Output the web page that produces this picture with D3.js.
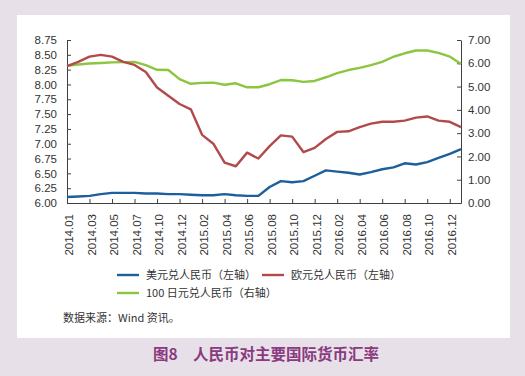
<!DOCTYPE html>
<html>
<head>
<meta charset="utf-8">
<script src="https://cdn.jsdelivr.net/npm/d3@7"></script>
<style>
  body { margin: 0; background: #e7e0e9; }
  svg { display: block; font-family: "Noto Sans CJK SC", "Noto Sans", sans-serif; }
</style>
</head>
<body>
<div id="chart"></div>
<script>
// tick labels shown under the x axis (every second data point)
const tickLabels = ["2014.01", "2014.03", "2014.05", "2014.07", "2014.10", "2014.12",
  "2015.02", "2015.04", "2015.06", "2015.08", "2015.10", "2015.12",
  "2016.02", "2016.04", "2016.06", "2016.08", "2016.10", "2016.12"];

// 美元兑人民币 (left axis)
const usd = [6.10, 6.11, 6.12, 6.15, 6.17, 6.17, 6.17, 6.16, 6.16, 6.15, 6.15, 6.14,
  6.13, 6.13, 6.15, 6.13, 6.12, 6.12, 6.27, 6.37, 6.35, 6.37, 6.46, 6.55,
  6.53, 6.51, 6.48, 6.52, 6.57, 6.60, 6.67, 6.65, 6.69, 6.76, 6.83, 6.91];

// 欧元兑人民币 (left axis)
const eur = [8.31, 8.38, 8.47, 8.50, 8.47, 8.38, 8.33, 8.21, 7.95, 7.81, 7.67, 7.58,
  7.15, 7.00, 6.68, 6.62, 6.85, 6.75, 6.96, 7.14, 7.12, 6.86, 6.93, 7.08,
  7.20, 7.21, 7.28, 7.34, 7.37, 7.37, 7.39, 7.44, 7.46, 7.39, 7.37, 7.28];

// 100日元兑人民币 (right axis)
const jpy = [5.89, 5.95, 5.99, 6.01, 6.04, 6.05, 6.06, 5.92, 5.72, 5.71, 5.32, 5.12,
  5.16, 5.17, 5.08, 5.14, 4.97, 4.97, 5.10, 5.28, 5.27, 5.20, 5.24, 5.40,
  5.58, 5.71, 5.80, 5.92, 6.06, 6.28, 6.43, 6.55, 6.55, 6.45, 6.29, 5.97];

const width = 525;
const height = 376;
const axisColor = "#404040";
const textColor = "#333";

const svg = d3.select("#chart")
  .append("svg")
  .attr("width", width)
  .attr("height", height);

svg.append("rect").attr("width", width).attr("height", height).attr("fill", "#e7e0e9");
svg.append("rect")
  .attr("x", 17).attr("y", 15)
  .attr("width", 493).attr("height", 323)
  .attr("fill", "#fff");

const x = d3.scaleLinear().domain([0, usd.length - 1]).range([67, 461]);
const yL = d3.scaleLinear().domain([6, 8.75]).range([203, 40]);
const yR = d3.scaleLinear().domain([0, 7]).range([203, 40]);

function styleAxis(g) {
  g.select(".domain").attr("stroke", axisColor);
  g.selectAll(".tick line").attr("stroke", axisColor);
  g.selectAll("text").attr("fill", textColor).style("font-size", "11.5px");
}

// left axis
svg.append("g")
  .attr("transform", "translate(67,0)")
  .call(d3.axisLeft(yL).tickValues(d3.range(6, 8.76, 0.25))
    .tickFormat(d3.format(".2f")).tickSizeInner(-4).tickSizeOuter(0).tickPadding(10))
  .call(styleAxis);

// right axis
svg.append("g")
  .attr("transform", "translate(461,0)")
  .call(d3.axisRight(yR).tickValues(d3.range(0, 7.01, 1))
    .tickFormat(d3.format(".2f")).tickSizeInner(-4).tickSizeOuter(0).tickPadding(7))
  .call(styleAxis);

// bottom axis
const xAxis = svg.append("g")
  .attr("transform", "translate(0,203)")
  .call(d3.axisBottom(x).tickValues(tickLabels.map((d, i) => i * 2))
    .tickFormat(d => tickLabels[d / 2]).tickSizeInner(-4).tickSizeOuter(0))
  .call(styleAxis);
xAxis.selectAll("text")
  .attr("transform", "rotate(-90)")
  .attr("text-anchor", "end")
  .attr("x", -11)
  .attr("y", 0)
  .attr("dy", "0.5em");

const series = [
  { name: "美元兑人民币（左轴）", values: usd, scale: yL, color: "#1c5f9c" },
  { name: "欧元兑人民币（左轴）", values: eur, scale: yL, color: "#b24a4b" },
  { name: "100 日元兑人民币（右轴）", values: jpy, scale: yR, color: "#8cc540" }
];

// draw green first so the others sit on top
[series[2], series[1], series[0]].forEach(s => {
  svg.append("path")
    .datum(s.values)
    .attr("fill", "none")
    .attr("stroke", s.color)
    .attr("stroke-width", 2.4)
    .attr("stroke-linejoin", "round")
    .attr("d", d3.line().x((d, i) => x(i)).y(d => s.scale(d)));
});

// legend
const legendPos = [[117, 275], [262, 275], [117, 293]];
const legend = svg.selectAll(".legend")
  .data(series)
  .join("g")
  .attr("class", "legend")
  .attr("transform", (d, i) => `translate(${legendPos[i][0]},${legendPos[i][1]})`);

legend.append("line")
  .attr("x1", 0).attr("x2", 22)
  .attr("stroke", d => d.color)
  .attr("stroke-width", 2.4);

legend.append("text")
  .attr("x", 29)
  .attr("dy", "0.35em")
  .attr("fill", textColor)
  .style("font-size", "11px")
  .text(d => d.name);

svg.append("text")
  .attr("x", 63).attr("y", 318)
  .attr("dy", "0.35em")
  .attr("fill", textColor)
  .style("font-size", "11px")
  .text("数据来源：Wind 资讯。");

svg.append("text")
  .attr("x", 266).attr("y", 355)
  .attr("dy", "0.35em")
  .attr("text-anchor", "middle")
  .attr("fill", "#8a3a80")
  .style("font-size", "15.5px")
  .style("font-weight", "bold")
  .text("图8　人民币对主要国际货币汇率");
</script>
</body>
</html>
